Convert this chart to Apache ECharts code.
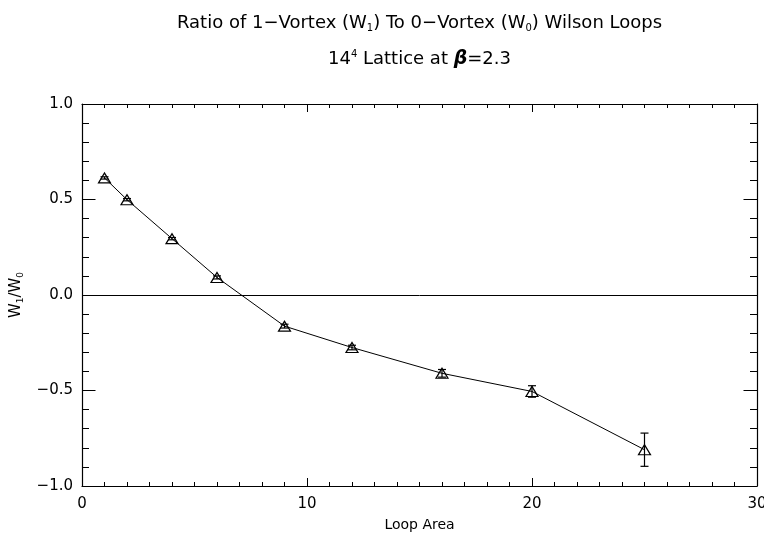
<!DOCTYPE html>
<html>
<head>
<meta charset="utf-8">
<script src="https://cdn.jsdelivr.net/npm/echarts@6/dist/echarts.min.js"></script>
<style>html,body{margin:0;padding:0;background:#fff;overflow:hidden;}#c{width:764px;height:537px;}</style>
</head>
<body>
<div id="c"></div>
<script>
const loopArea = [1, 2, 4, 6, 9, 12, 16, 20, 25];
const ratio = [0.613, 0.499, 0.295, 0.092, -0.163, -0.275, -0.41, -0.505, -0.81];
const ratioErr = [0.006, 0.006, 0.006, 0.008, 0.01, 0.012, 0.02, 0.03, 0.087];
const xTicks = [0, 10, 20, 30];
const yTicks = [-1.0, -0.5, 0.0, 0.5, 1.0];

const FONT = 'DejaVu Sans';
const chart = echarts.init(document.getElementById('c'), null, {renderer: 'canvas'});

const GRID = {left: 82, right: 7, top: 104, bottom: 51, outerBoundsMode: 'none', containLabel: false};
const plotCenterX = GRID.left + (764 - GRID.left - GRID.right) / 2;

function yFmt(v) {
  return (v < 0 ? '\u2212' : '') + Math.abs(v).toFixed(1);
}

function axisBase(pos, isX, showLabel) {
  const major = isX ? 8 : 13.5;
  const minor = isX ? 4 : 7;
  return {
    type: 'value',
    position: pos,
    min: isX ? xTicks[0] : yTicks[0],
    max: isX ? xTicks[xTicks.length - 1] : yTicks[yTicks.length - 1],
    interval: isX ? xTicks[1] - xTicks[0] : yTicks[1] - yTicks[0],
    axisLine: {show: true, onZero: false, lineStyle: {color: '#000', width: 1.2}},
    axisTick: {show: true, inside: true, length: major, lineStyle: {color: '#000', width: 1}},
    minorTick: {show: true, splitNumber: isX ? 10 : 5, length: minor, lineStyle: {color: '#000', width: 1}},
    splitLine: {show: false},
    minorSplitLine: {show: false},
    axisLabel: {
      show: showLabel,
      color: '#000',
      fontFamily: FONT,
      fontSize: 15,
      margin: isX ? 11 : 9,
      formatter: isX ? (v => String(v)) : yFmt
    }
  };
}

const xBottom = Object.assign(axisBase('bottom', true, true), {
  name: 'Loop Area', nameLocation: 'middle', nameGap: 32,
  nameTextStyle: {color: '#000', fontFamily: FONT, fontSize: 14}
});
const xTop = axisBase('top', true, false);
const yLeft = Object.assign(axisBase('left', false, true), {
  name: 'W{sub|1}/W{sub|0}', nameLocation: 'middle', nameGap: 57, nameRotate: 90,
  nameTextStyle: {color: '#000', fontFamily: FONT, fontSize: 15, lineHeight: 18,
    rich: {sub: {fontSize: 9, fontFamily: FONT, color: '#000', verticalAlign: 'bottom', lineHeight: 14}}}
});
const yRight = axisBase('right', false, false);

const pts = loopArea.map((x, i) => [x, ratio[i]]);
const errData = loopArea.map((x, i) => [x, ratio[i] - ratioErr[i], ratio[i] + ratioErr[i]]);

const option = {
  animation: false,
  backgroundColor: '#fff',
  grid: GRID,
  xAxis: [xBottom, xTop],
  yAxis: [yLeft, yRight],
  graphic: [
    {
      type: 'text', x: plotCenterX, y: 13,
      style: {
        text: 'Ratio of 1\u2212Vortex (W{sub|1}) To 0\u2212Vortex (W{sub|0}) Wilson Loops',
        align: 'center',
        fontFamily: FONT, fontSize: 18, fill: '#000',
        rich: {sub: {fontSize: 10, fontFamily: FONT, fill: '#000', verticalAlign: 'bottom', lineHeight: 20}}
      }
    },
    {
      type: 'text', x: plotCenterX, y: 49,
      style: {
        text: '14{sup|4} Lattice at {b|\u03b2}=2.3',
        align: 'center',
        fontFamily: FONT, fontSize: 18, fill: '#000',
        rich: {
          sup: {fontSize: 10, fontFamily: FONT, fill: '#000', verticalAlign: 'top', lineHeight: 20},
          b: {fontSize: 19, fontFamily: FONT, fontStyle: 'italic', fontWeight: 'bold', fill: '#000'}
        }
      }
    }
  ],
  series: [
    {
      type: 'line',
      xAxisIndex: 0, yAxisIndex: 0,
      data: pts,
      symbol: 'triangle',
      symbolSize: [12, 10],
      showAllSymbol: true,
      lineStyle: {color: '#000', width: 1},
      itemStyle: {color: 'rgba(0,0,0,0)', borderColor: '#000', borderWidth: 1.2},
      z: 3,
      markLine: {
        silent: true,
        symbol: ['none', 'none'],
        label: {show: false},
        lineStyle: {color: '#000', width: 1, type: 'solid'},
        data: [{yAxis: 0}]
      }
    },
    {
      type: 'custom',
      xAxisIndex: 0, yAxisIndex: 0,
      data: errData,
      z: 4,
      renderItem: function (params, api) {
        const x = api.value(0);
        const lo = api.coord([x, api.value(1)]);
        const hi = api.coord([x, api.value(2)]);
        const cap = 4;
        const style = {stroke: '#000', lineWidth: 1.2};
        return {
          type: 'group',
          children: [
            {type: 'line', shape: {x1: lo[0], y1: lo[1], x2: hi[0], y2: hi[1]}, style},
            {type: 'line', shape: {x1: lo[0] - cap, y1: lo[1], x2: lo[0] + cap, y2: lo[1]}, style},
            {type: 'line', shape: {x1: hi[0] - cap, y1: hi[1], x2: hi[0] + cap, y2: hi[1]}, style}
          ]
        };
      }
    }
  ]
};
chart.setOption(option);
</script>
</body>
</html>
